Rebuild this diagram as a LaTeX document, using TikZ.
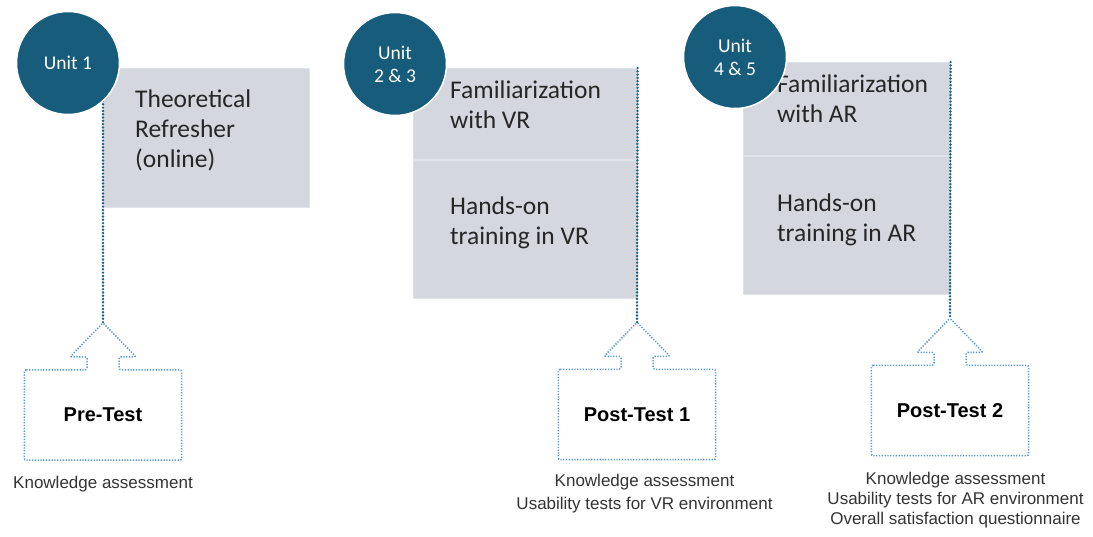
\documentclass[tikz,border=0pt]{standalone}
\usepackage{fontspec}
\setmainfont{Carlito}
\newfontfamily\arialfont{Liberation Sans}
\usetikzlibrary{calc,positioning}
\definecolor{unitblue}{RGB}{24,92,124}
\definecolor{panelgray}{RGB}{212,216,222}
\definecolor{linkblue}{RGB}{26,95,135}
\definecolor{testblue}{RGB}{90,152,214}
\definecolor{textdark}{RGB}{38,38,38}

\begin{document}
\begin{tikzpicture}[
    x=1pt, y=-1pt,
    unit/.style={circle,fill=unitblue,draw=white,line width=1.5pt,minimum size=103pt,inner sep=0pt,
      text=white,align=center,font=\fontsize{19.5}{23}\selectfont},
    panel/.style={rectangle,fill=panelgray,draw=panelgray!75!white,line width=0.6pt,inner sep=0pt,anchor=north west},
    paneltext/.style={anchor=west,inner sep=0pt,align=left,text=textdark,font=\fontsize{25.5}{30}\selectfont},
    test/.style={rectangle,inner sep=0pt,minimum width=157pt,minimum height=90pt,
      font=\arialfont\bfseries\fontsize{20}{24}\selectfont},
    note/.style={inner sep=0pt,align=center,text=black!80,font=\arialfont\fontsize{17}{22}\selectfont},
    testline/.style={draw=testblue,line width=1.5pt,dash pattern=on 1.3pt off 1.5pt,rounded corners=2pt},
    link/.style={draw=linkblue,line width=2.7pt,line cap=round,dash pattern=on 0pt off 3.3pt}
    ]
    \useasboundingbox (0,0) rectangle (1093,536);

    \node (refresh) [panel,minimum width=206pt,minimum height=139pt] at (103,68) {};
    \node (vrfam) [panel,minimum width=224pt,minimum height=91pt] at (413,68) {};
    \node (vrtrain) [panel,minimum width=224pt,minimum height=138pt] at (vrfam.south west) {};
    \node (arfam) [panel,minimum width=207pt,minimum height=93pt] at (743,62) {};
    \node (artrain) [panel,minimum width=207pt,minimum height=138pt] at (arfam.south west) {};

    \node (refreshtxt) [paneltext] at ([shift={(32,-7)}]refresh.west) {Theoretical\\Refresher\\(online)};
    \node (vrfamtxt) [paneltext] at ([shift={(37,-9)}]vrfam.west) {Familiarization\\with VR};
    \node (vrtraintxt) [paneltext] at ([shift={(37,-6)}]vrtrain.west) {Hands-on\\training in VR};
    \node (arfamtxt) [paneltext] at ([shift={(34,-10)}]arfam.west) {Familiarization\\with AR};
    \node (artraintxt) [paneltext] at ([shift={(34,-5)}]artrain.west) {Hands-on\\training in AR};

    \node (pre) [test] at (103,415) {Pre-Test};
    \node (post1) [test] at (637,414.5) {Post-Test 1};
    \node (post2) [test] at (950,410.5) {Post-Test 2};

    \foreach \t in {pre,post1,post2}
      \draw[testline] (\t.north west) -- ($(\t.north)+(-16,0)$) -- ++(0,-13) -- ++(-17,0)
        -- ($(\t.north)+(0,-47)$) coordinate (\t-tip) -- ($(\t.north)+(33,-13)$) -- ++(-17,0)
        -- ++(0,13) -- (\t.north east) -- (\t.south east) -- (\t.south west) -- cycle;

    \draw[link] (refresh.north west) -- (pre-tip);
    \draw[link] (vrfam.north east) -- (post1-tip);
    \draw[link] (arfam.north east) -- (post2-tip);

    \node (u1) [unit] at (68,63) {Unit 1};
    \node (u23) [unit] at (395,64) {Unit\\2 \& 3};
    \node (u45) [unit] at (735,57) {Unit\\4 \& 5};

    \node (prenote) [note,below=16pt of pre] {Knowledge assessment};
    \node (post1note) [note,below=14pt of post1,xshift=7.5pt,font=\arialfont\fontsize{17}{23}\selectfont]
      {Knowledge assessment\\Usability tests for VR environment};
    \node (post2note) [note,below=16pt of post2,xshift=5.5pt,font=\arialfont\fontsize{17}{20}\selectfont]
      {Knowledge assessment\\Usability tests for AR environment\\Overall satisfaction questionnaire};

  \end{tikzpicture}
\end{document}
